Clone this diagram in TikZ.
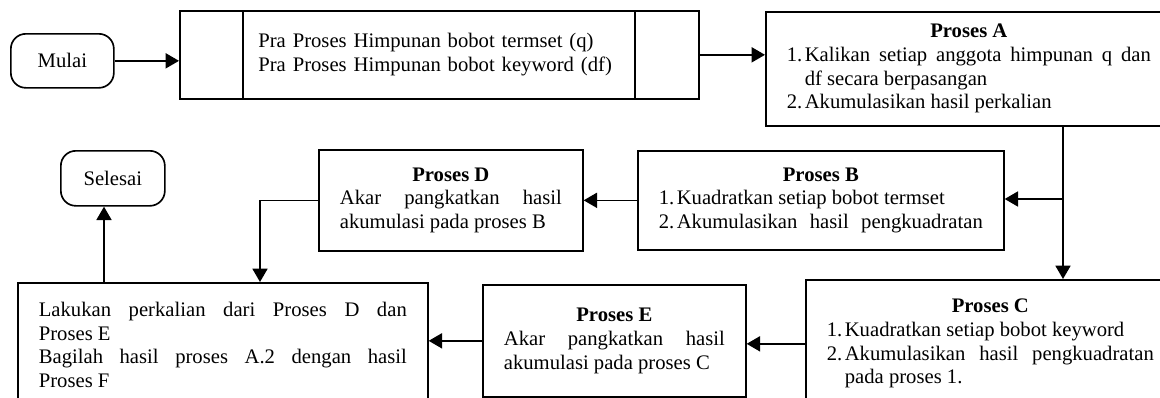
\documentclass[tikz,border=0pt]{standalone}
\usepackage{fontspec}
\setmainfont{Liberation Serif}
\usetikzlibrary{arrows.meta,calc}
\setlength\parindent{0pt}
\hyphenpenalty=10000
\exhyphenpenalty=10000
\tolerance=9999
\newlength\px
\setlength\px{0.6pt}
\newcommand{\judul}[1]{{\centering\bfseries #1\par}}
\newcommand{\butir}[2]{\par\noindent\hangindent=18\px\hangafter=1\makebox[18\px][l]{#1}#2\par}

\begin{document}
\begin{tikzpicture}[x=0.6pt,y=-0.6pt,
  font=\fontsize{12.4}{14.2}\selectfont,
  line width=1pt,
  panah/.style={-{Triangle[length=8pt,width=9pt]}},
  proses/.style={draw,anchor=north west,inner xsep=21\px,inner ysep=0pt,align=justify},
  terminal/.style={draw,rounded corners=9pt,anchor=north west,inner sep=0pt}]

% Batas gambar
\path[use as bounding box,clip] (0,0) rectangle (1160,398);

% Mulai
\node[terminal,minimum width=103\px,minimum height=54\px] (mulai) at (10,33) {Mulai};

% Pra proses
\node[proses,minimum width=519\px,minimum height=88\px,text width=362\px,align=left] (pra) at (179,10)
  {Pra Proses Himpunan bobot termset (q)\\Pra Proses Himpunan bobot keyword (df)};
\draw ($(pra.north west)+(64,0)$) -- ($(pra.south west)+(64,0)$);
\draw ($(pra.north east)-(65,0)$) -- ($(pra.south east)-(65,0)$);

% Proses A
\node[proses,minimum height=114\px,text width=364\px] (prosesA) at (765,11)
  {\judul{Proses A}\butir{1.}{Kalikan setiap anggota himpunan q dan\linebreak df secara berpasangan}\butir{2.}{Akumulasikan hasil perkalian}};

% Proses B
\node[proses,minimum width=366\px,minimum height=99\px,text width=324\px] (prosesB) at (637,150)
  {\judul{Proses B}\butir{1.}{Kuadratkan setiap bobot termset}\butir{2.}{Akumulasikan hasil pengkuadratan\parfillskip=0pt}};

% Proses D
\node[proses,minimum width=264\px,minimum height=101\px,text width=222\px] (prosesD) at (318,149)
  {\judul{Proses D}Akar pangkatkan hasil\linebreak akumulasi pada proses B};

% Proses C
\node[proses,minimum width=369\px,minimum height=128\px,text width=327\px] (prosesC) at (805,279)
  {\judul{Proses C}\butir{1.}{Kuadratkan setiap bobot keyword}\butir{2.}{Akumulasikan hasil pengkuadratan\linebreak pada proses 1.}};

% Proses E
\node[proses,minimum width=263\px,minimum height=112\px,text width=221\px] (prosesE) at (482,284)
  {\judul{Proses E}Akar pangkatkan hasil\linebreak akumulasi pada proses C\par\vspace*{16\px}};

% Hasil akhir
\node[proses,minimum width=410\px,minimum height=124\px,text width=368\px] (hasil) at (17,282)
  {Lakukan perkalian dari Proses D dan\linebreak Proses E\par Bagilah hasil proses A.2 dengan hasil\linebreak Proses F};

% Selesai
\node[terminal,minimum width=104\px,minimum height=55\px] (selesai) at (60,150) {Selesai};

% Alur
\coordinate (cabang) at (1063,199);
\coordinate (belokD) at (260,0);
\coordinate (naik) at (104,0);
\draw[panah] (mulai.east) -- (mulai.east -| pra.west);
\draw[panah] (pra.east) -- (pra.east -| prosesA.west);
\draw[panah] (cabang |- prosesA.south) -- (cabang |- prosesC.north);
\draw[panah] (cabang) -- (cabang -| prosesB.east);
\draw[panah] (prosesB.west) -- (prosesD.east);
\draw[panah] (prosesD.west) -| (belokD |- hasil.north);
\draw[panah] (prosesC.west) -- (prosesC.west -| prosesE.east);
\draw[panah] (prosesE.west) -- (prosesE.west -| hasil.east);
\draw[panah] (naik |- hasil.north) -- (naik |- selesai.south);

\end{tikzpicture}
\end{document}
